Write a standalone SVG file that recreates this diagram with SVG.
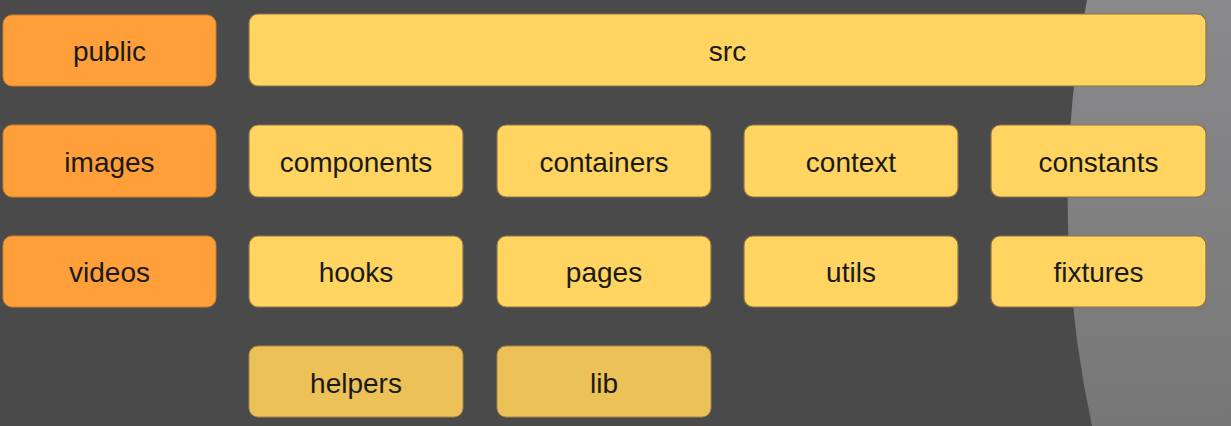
<svg xmlns="http://www.w3.org/2000/svg" width="1231" height="426" viewBox="0 0 1231 426">
<defs>
<linearGradient id="lg" x1="0" y1="0" x2="0" y2="1">
<stop offset="0" stop-color="#8a8a8c"/>
<stop offset="1" stop-color="#777778"/>
</linearGradient>
<style>
.o{fill:#ff9f3a;stroke:#c98030;stroke-width:1}
.y{fill:#ffd460;stroke:#8a7444;stroke-width:1.2}
.d{fill:#ecc158;stroke:#a08845;stroke-width:1}
text{font-family:"Liberation Sans",Arial,sans-serif;font-size:28px;fill:#1a1a1a;text-anchor:middle;dominant-baseline:central}
</style>
</defs>
<rect width="1231" height="426" fill="#4a4a4b"/>
<path d="M1087,0 Q1046,213 1092,426 L1231,426 L1231,0 Z" fill="url(#lg)"/>
<g id="public"><rect class="o" x="3" y="15" width="213" height="71" rx="9"/><text x="109.5" y="51">public</text></g>
<g id="images"><rect class="o" x="3" y="125" width="213" height="72" rx="9"/><text x="109.5" y="162">images</text></g>
<g id="videos"><rect class="o" x="3" y="236" width="213" height="71" rx="9"/><text x="109.5" y="272">videos</text></g>
<g id="src"><rect class="y" x="249" y="14" width="957" height="72" rx="9"/><text x="727.5" y="51">src</text></g>
<g id="components"><rect class="y" x="249" y="125" width="214" height="72" rx="9"/><text x="356" y="162">components</text></g>
<g id="containers"><rect class="y" x="497" y="125" width="214" height="72" rx="9"/><text x="604" y="162">containers</text></g>
<g id="context"><rect class="y" x="744" y="125" width="214" height="72" rx="9"/><text x="851" y="162">context</text></g>
<g id="constants"><rect class="y" x="991" y="125" width="215" height="72" rx="9"/><text x="1098.5" y="162">constants</text></g>
<g id="hooks"><rect class="y" x="249" y="236" width="214" height="71" rx="9"/><text x="356" y="272">hooks</text></g>
<g id="pages"><rect class="y" x="497" y="236" width="214" height="71" rx="9"/><text x="604" y="272">pages</text></g>
<g id="utils"><rect class="y" x="744" y="236" width="214" height="71" rx="9"/><text x="851" y="272">utils</text></g>
<g id="fixtures"><rect class="y" x="991" y="236" width="215" height="71" rx="9"/><text x="1098.5" y="272">fixtures</text></g>
<g id="helpers"><rect class="d" x="249" y="346" width="214" height="71" rx="9"/><text x="356" y="383">helpers</text></g>
<g id="lib"><rect class="d" x="497" y="346" width="214" height="71" rx="9"/><text x="604" y="383">lib</text></g>
<g id="connectors"></g>
</svg>
